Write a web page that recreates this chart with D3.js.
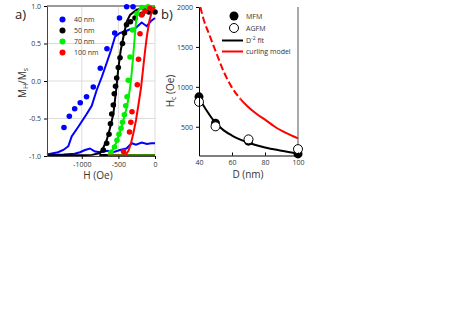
<!DOCTYPE html>
<html>
<head>
<meta charset="utf-8">
<script src="https://cdn.jsdelivr.net/npm/d3@7"></script>
<style>
  body { margin: 0; background: #fff; }
  svg { font-family: "Open Sans", sans-serif; }
</style>
</head>
<body>
<svg id="chart" width="463" height="328"></svg>
<script>
// panel a: hysteresis loops, [H (Oe), M/Ms]
var hTicks = [-1000, -500, 0];
var mTicks = [-1, -0.5, 0, 0.5, 1];
var names = ["40 nm", "50 nm", "70 nm", "100 nm"];
var colors = ["#0000ff", "#000000", "#00ee00", "#ff0000"];

var dots40 = [[-1243,-0.62],[-1170,-0.47],[-1097,-0.37],[-1021,-0.29],[-935,-0.21],[-843,-0.08],
  [-747,0.17],[-656,0.43],[-550,0.64],[-485,0.84],[-387,0.99],[-300,0.99]];
var up40 = [[-1475,-0.98],[-1325,-0.95],[-1252,-0.92],[-1184,-0.87],[-1138,-0.74],[-1047,-0.61],
  [-933,-0.44],[-864,-0.33],[-796,-0.12],[-728,0.05],[-660,0.24],[-601,0.41],[-546,0.59],
  [-478,0.64],[-410,0.66],[-341,0.69],[-273,0.70],[-182,0.78],[-113,0.73],[-55,0.80],[0,0.84]];
var low40 = [[-1475,-0.99],[-1250,-0.98],[-1100,-0.97],[-1024,-0.95],[-956,-0.92],[-888,-0.90],
  [-819,-0.94],[-740,-0.95],[-650,-0.93],[-570,-0.95],[-480,-0.92],[-390,-0.90],[-318,-0.83],
  [-260,-0.85],[-182,-0.82],[-110,-0.84],[-50,-0.83],[0,-0.83]];

var dots50 = [[-706,-0.92],[-660,-0.83],[-628,-0.71],[-608,-0.57],[-591,-0.44],[-569,-0.32],
  [-556,-0.17],[-539,-0.07],[-523,0.04],[-501,0.18],[-478,0.31],[-444,0.50],[-417,0.64],
  [-389,0.75],[-335,0.79],[-273,0.84],[-178,0.89],[-82,0.92],[0,0.92]];
var up50 = [[-1475,-0.99],[-1024,-0.99],[-860,-0.985],[-751,-0.96],[-706,-0.89],[-660,-0.79],
  [-615,-0.63],[-569,-0.44],[-546,-0.25],[-523,-0.05],[-501,0.17],[-468,0.41],[-423,0.63],
  [-387,0.79],[-341,0.88],[-250,0.95],[-113,0.98],[0,0.99]];
var low50 = [[-760,-0.985],[0,-0.985]];

var dots70 = [[-601,-0.95],[-553,-0.88],[-519,-0.79],[-492,-0.71],[-464,-0.63],[-444,-0.55],
  [-419,-0.45],[-400,-0.33],[-382,-0.21],[-365,0.01],[-341,0.32],[-307,0.68],[-246,0.90],
  [-178,0.98],[-96,0.99]];
var up70 = [[-640,-0.99],[-615,-0.96],[-574,-0.91],[-523,-0.81],[-492,-0.72],[-455,-0.61],
  [-423,-0.49],[-387,-0.36],[-362,-0.23],[-341,-0.09],[-321,0.08],[-300,0.31],[-280,0.55],
  [-259,0.79],[-232,0.93],[-191,0.98],[0,0.993]];
var low70 = [[-640,-0.99],[0,-0.99]];

var dots100 = [[-430,-0.94],[-348,-0.68],[-330,-0.55],[-314,-0.41],[-242,-0.05],[-225,0.29],
  [-205,0.63],[-182,0.88],[-137,0.93],[-68,0.97]];
var up100 = [[-640,-0.995],[-410,-0.993],[-362,-0.93],[-328,-0.83],[-294,-0.69],[-259,-0.52],
  [-225,-0.31],[-191,-0.09],[-164,0.15],[-137,0.39],[-109,0.61],[-75,0.81],[-41,0.93],[0,0.987]];
var low100 = [[-640,-0.995],[0,-0.995]];

// panel b: coercivity vs diameter
var dTicks = [40, 60, 80, 100];
var hcTicks = [500, 1000, 1500, 2000];
var mfm = [[40,875],[50,545],[70,320],[100,160]];
var agfm = [[40,812],[50,505],[70,342],[100,220]];
var fit = [[39.5,910],[40,880],[45,690],[50,550],[55,455],[60,390],[70,300],[80,240],[90,200],[100,165]];
var curling = [[40.8,2000],[43,1830],[46,1667],[50,1450],[55,1190],[60,990],[65,850],[70,745],
  [75,660],[80,590],[86,500],[93,420],[100,355]];
var dashEnd = 65; // curling model drawn dashed below this diameter

var svg = d3.select("#chart");

// ---------- panel a ----------
var x = d3.scaleLinear().domain([-1475, 0]).range([47, 155]);
var y = d3.scaleLinear().domain([-1, 1]).range([156, 6]);

var ga = svg.append("g");

// grid
ga.selectAll(".gy").data(mTicks).enter().append("line")
  .attr("x1", 47).attr("x2", 155)
  .attr("y1", d => y(d)).attr("y2", d => y(d))
  .attr("stroke", "#dcdcdc").attr("stroke-width", 1);
ga.selectAll(".gx").data(hTicks).enter().append("line")
  .attr("x1", d => x(d)).attr("x2", d => x(d))
  .attr("y1", 6).attr("y2", 156)
  .attr("stroke", "#dcdcdc").attr("stroke-width", 1);
ga.append("line").attr("x1", 47).attr("x2", 155).attr("y1", y(1)).attr("y2", y(1))
  .attr("stroke", "#9a9a9a").attr("stroke-width", 2);

var lineA = d3.line().x(d => x(d[0])).y(d => y(d[1]));

var loops = [
  {up: up40, low: low40, dots: dots40},
  {up: up50, low: low50, dots: dots50},
  {up: up70, low: low70, dots: dots70},
  {up: up100, low: low100, dots: dots100}
];

loops.forEach(function(s, i) {
  [s.low, s.up].forEach(function(l) {
    ga.append("path").datum(l)
      .attr("fill", "none").attr("stroke", colors[i]).attr("stroke-width", 2)
      .attr("d", lineA);
  });
  ga.selectAll(".d" + i).data(s.dots).enter().append("circle")
    .attr("cx", d => x(d[0])).attr("cy", d => y(d[1]))
    .attr("r", 2.8).attr("fill", colors[i]);
});

ga.append("g")
  .attr("transform", "translate(47,0)")
  .call(d3.axisLeft(y).tickValues(mTicks).tickFormat(d => d.toFixed(1)).tickSize(3).tickSizeOuter(0))
  .call(g => g.select(".domain").attr("stroke", "#444"))
  .call(g => g.selectAll("text").attr("font-size", 7).attr("fill", "#333").attr("font-family", "Open Sans"));

ga.append("g")
  .attr("transform", "translate(0,156)")
  .call(d3.axisBottom(x).tickValues(hTicks).tickFormat(d => String(d)).tickSize(3).tickSizeOuter(0))
  .call(g => g.select(".domain").attr("stroke", "#444"))
  .call(g => g.selectAll("text").attr("font-size", 7).attr("fill", "#333").attr("font-family", "Open Sans"));

// legend a
names.forEach(function(n, i) {
  ga.append("circle").attr("cx", 62.5).attr("cy", 19.5 + i * 11).attr("r", 3).attr("fill", colors[i]);
  ga.append("text").attr("x", 74).attr("y", 22 + i * 11)
    .attr("font-size", 7).attr("fill", "#333").text(n);
});

ga.append("text").attr("x", 98).attr("y", 179).attr("text-anchor", "middle")
  .attr("font-size", 10).attr("fill", "#333").text("H (Oe)");

var ylab = ga.append("text").attr("transform", "translate(26,83) rotate(-90)")
  .attr("text-anchor", "middle").attr("font-size", 10).attr("fill", "#333");
ylab.append("tspan").text("M");
ylab.append("tspan").attr("font-size", 7).attr("dy", 2).text("H");
ylab.append("tspan").attr("dy", -2).text("/M");
ylab.append("tspan").attr("font-size", 7).attr("dy", 2).text("s");

svg.append("text").attr("x", 15).attr("y", 19).attr("font-size", 13).attr("fill", "#222").text("a)");

// ---------- panel b ----------
var x2 = d3.scaleLinear().domain([40, 100]).range([199, 298]);
var y2 = d3.scaleLinear().domain([140, 2000]).range([155.5, 7]);
var gb = svg.append("g");

var defs = svg.append("defs");
defs.append("clipPath").attr("id", "clipDash").append("rect")
  .attr("x", 150).attr("y", 0).attr("width", x2(dashEnd) - 150).attr("height", 200);
defs.append("clipPath").attr("id", "clipSolid").append("rect")
  .attr("x", x2(dashEnd)).attr("y", 0).attr("width", 200).attr("height", 200);

gb.append("line").attr("x1", 298).attr("x2", 298).attr("y1", 7).attr("y2", 155.5)
  .attr("stroke", "#555").attr("stroke-width", 1);

var lineB = d3.line().x(d => x2(d[0])).y(d => y2(d[1])).curve(d3.curveMonotoneX);

gb.append("path").datum(curling).attr("fill", "none").attr("stroke", "#ff0000")
  .attr("stroke-width", 2).attr("stroke-dasharray", "7,3").attr("clip-path", "url(#clipDash)")
  .attr("d", lineB);
gb.append("path").datum(curling).attr("fill", "none").attr("stroke", "#ff0000")
  .attr("stroke-width", 2).attr("clip-path", "url(#clipSolid)").attr("d", lineB);
gb.append("path").datum(fit).attr("fill", "none").attr("stroke", "#000")
  .attr("stroke-width", 2).attr("d", lineB);

gb.selectAll(".mfm").data(mfm).enter().append("circle")
  .attr("cx", d => x2(d[0])).attr("cy", d => y2(d[1])).attr("r", 4.5).attr("fill", "#000");
gb.selectAll(".agfm").data(agfm).enter().append("circle")
  .attr("cx", d => x2(d[0])).attr("cy", d => y2(d[1])).attr("r", 4.5)
  .attr("fill", "#fff").attr("stroke", "#000").attr("stroke-width", 1);

gb.append("g")
  .attr("transform", "translate(199,0)")
  .call(d3.axisLeft(y2).tickValues(hcTicks).tickFormat(d3.format("d")).tickSize(3).tickSizeOuter(0))
  .call(g => g.select(".domain").attr("stroke", "#000"))
  .call(g => g.selectAll("text").attr("font-size", 7).attr("fill", "#333").attr("font-family", "Open Sans"));

gb.append("g")
  .attr("transform", "translate(0,155.5)")
  .call(d3.axisBottom(x2).tickValues(dTicks).tickFormat(d3.format("d")).tickSize(-3).tickPadding(5).tickSizeOuter(0))
  .call(g => g.select(".domain").attr("stroke", "#000"))
  .call(g => g.selectAll("text").attr("font-size", 7).attr("fill", "#333").attr("font-family", "Open Sans"));

// legend b
gb.append("circle").attr("cx", 234).attr("cy", 16).attr("r", 4.5).attr("fill", "#000");
gb.append("circle").attr("cx", 234).attr("cy", 28).attr("r", 4.5).attr("fill", "#fff")
  .attr("stroke", "#000").attr("stroke-width", 1);
gb.append("line").attr("x1", 222).attr("x2", 243).attr("y1", 40.5).attr("y2", 40.5)
  .attr("stroke", "#000").attr("stroke-width", 2);
gb.append("line").attr("x1", 222).attr("x2", 243).attr("y1", 51.5).attr("y2", 51.5)
  .attr("stroke", "#ff0000").attr("stroke-width", 2);
gb.append("text").attr("x", 246).attr("y", 18.5).attr("font-size", 7).attr("fill", "#333").text("MFM");
gb.append("text").attr("x", 246).attr("y", 30.5).attr("font-size", 7).attr("fill", "#333").text("AGFM");
var fitLab = gb.append("text").attr("x", 246).attr("y", 43).attr("font-size", 7).attr("fill", "#333");
fitLab.append("tspan").text("D");
fitLab.append("tspan").attr("font-size", 5).attr("dy", -3).text("-2");
fitLab.append("tspan").attr("dy", 3).text(" fit");
gb.append("text").attr("x", 246).attr("y", 54).attr("font-size", 7).attr("fill", "#333").text("curling model");

gb.append("text").attr("x", 248).attr("y", 178).attr("text-anchor", "middle")
  .attr("font-size", 10).attr("fill", "#333").text("D (nm)");

var ylab2 = gb.append("text").attr("transform", "translate(174,91) rotate(-90)")
  .attr("text-anchor", "middle").attr("font-size", 10).attr("fill", "#333");
ylab2.append("tspan").text("H");
ylab2.append("tspan").attr("font-size", 7).attr("dy", 2).text("c");
ylab2.append("tspan").attr("dy", -2).text(" (Oe)");

svg.append("text").attr("x", 161).attr("y", 19).attr("font-size", 13).attr("fill", "#222").text("b)");
</script>
</body>
</html>
